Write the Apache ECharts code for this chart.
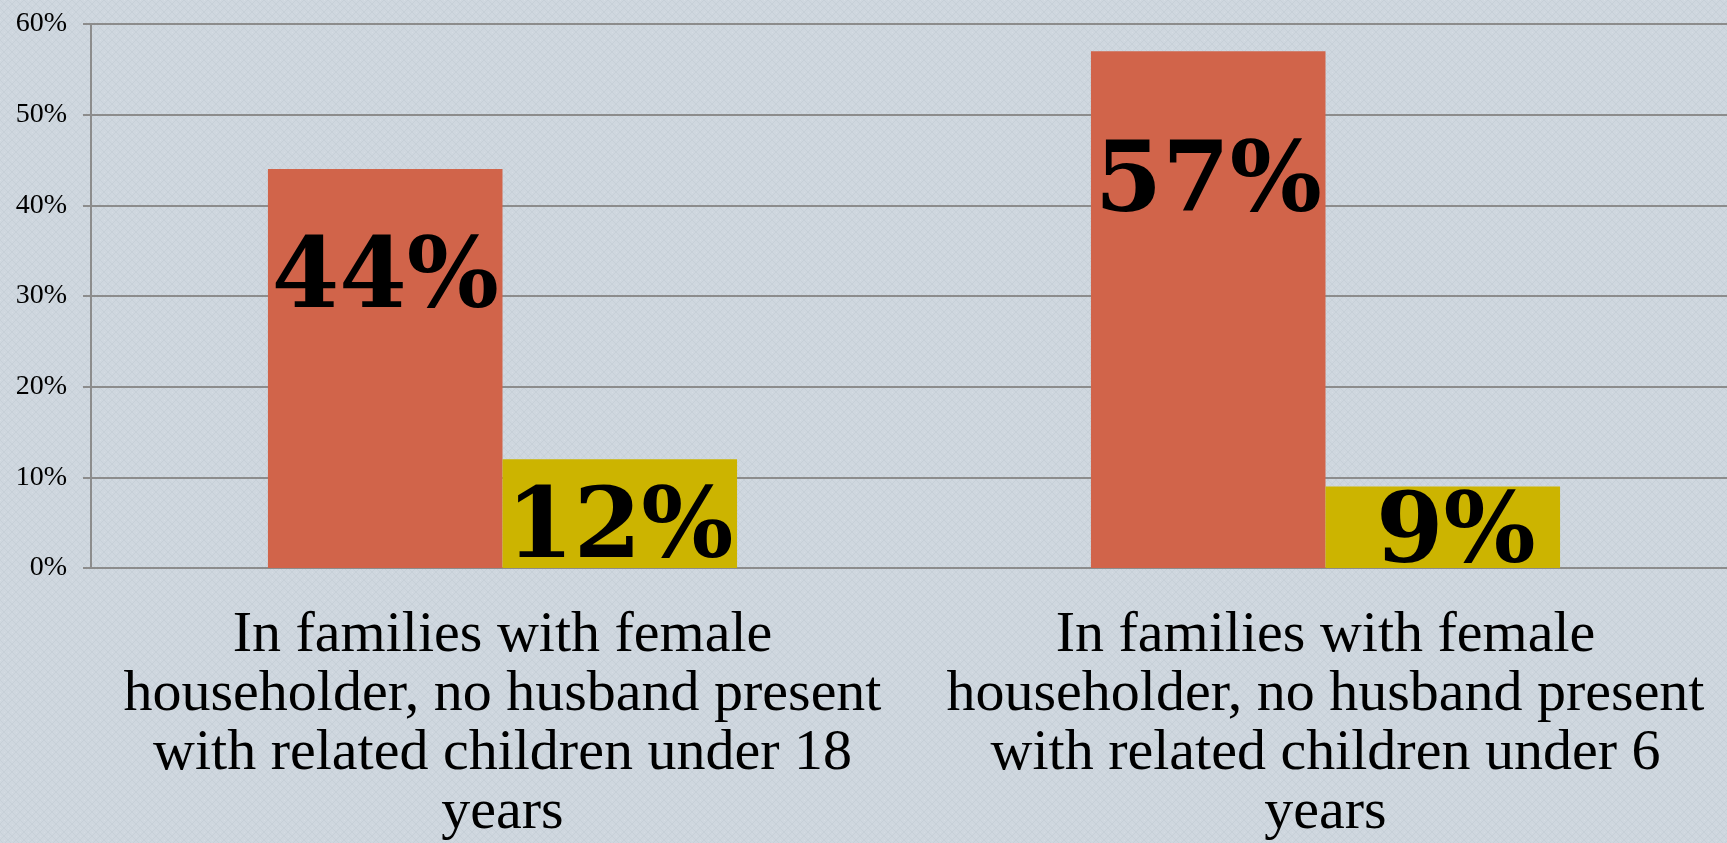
<!DOCTYPE html>
<html>
<head>
<meta charset="utf-8">
<script src="https://cdn.jsdelivr.net/npm/echarts@6/dist/echarts.min.js"></script>
<style>
	html, body { margin: 0; padding: 0; background: #cfd7df; }
	#chart { width: 1727px; height: 843px; }
</style>
</head>
<body>
<div id="chart"></div>
<script>
// categories (x axis)
var categories = [
	'In families with female\nhouseholder, no husband present\nwith related children under 18\nyears',
	'In families with female\nhouseholder, no husband present\nwith related children under 6\nyears'
];
// series values, in percent
var redValues = [44, 57];
var yellowValues = [12, 9];
// y axis ticks
var yMin = 0;
var yMax = 60;
var yStep = 10;

var chartObj = echarts.init(document.getElementById('chart'));

// label offsets per bar (placement only)
var redOffsets = [[0, -87], [0, -124]];
var yellowOffsets = [[0, 18], [13, 10]];

function withLabels(values, offsets) {
	var out = [];
	for (var i = 0; i < values.length; i++) {
		out.push({ value: values[i], label: { offset: offsets[i] } });
	}
	return out;
}

// faint woven texture for the background
function makeTexture() {
	var c = document.createElement('canvas');
	c.width = 8;
	c.height = 8;
	var ctx = c.getContext('2d');
	ctx.fillStyle = '#cfd7df';
	ctx.fillRect(0, 0, 8, 8);
	ctx.fillStyle = '#c7d0d8';
	for (var i = 0; i < 8; i++) {
		ctx.fillRect(i, i, 1, 1);
		ctx.fillRect(7 - i, i, 1, 1);
	}
	ctx.fillStyle = '#d6dde4';
	ctx.fillRect(4, 0, 1, 1);
	ctx.fillRect(0, 4, 1, 1);
	return c;
}

var gridColor = '#8c8c8c';
var valueLabel = {
	show: true,
	position: 'inside',
	formatter: '{c}%',
	color: '#000',
	fontFamily: 'DejaVu Serif',
	fontWeight: 'bold',
	fontSize: 97
};

var option = {
	backgroundColor: { image: makeTexture(), repeat: 'repeat' },
	animation: false,
	grid: { left: 91, top: 24, width: 1646, bottom: 275, outerBoundsMode: 'none' },
	xAxis: {
		type: 'category',
		data: categories,
		axisLine: { lineStyle: { color: gridColor, width: 2 } },
		axisTick: { length: 15, lineStyle: { color: gridColor, width: 2 } },
		axisLabel: {
			interval: 0,
			margin: 38,
			color: '#000',
			fontFamily: 'Liberation Serif',
			fontSize: 58,
			lineHeight: 59
		}
	},
	yAxis: {
		type: 'value',
		min: yMin,
		max: yMax,
		interval: yStep,
		axisLine: { show: true, lineStyle: { color: gridColor, width: 2 } },
		axisTick: { show: true, length: 8, lineStyle: { color: gridColor, width: 2 } },
		splitLine: { lineStyle: { color: gridColor, width: 2 } },
		axisLabel: {
			formatter: '{value}%',
			margin: 24,
			color: '#000',
			fontFamily: 'Liberation Serif',
			fontSize: 28
		}
	},
	series: [
		{
			name: 'Series 1',
			type: 'bar',
			barGap: '0%',
			barCategoryGap: '43%',
			itemStyle: { color: '#d1644a' },
			label: valueLabel,
			data: withLabels(redValues, redOffsets)
		},
		{
			name: 'Series 2',
			type: 'bar',
			barGap: '0%',
			barCategoryGap: '43%',
			itemStyle: { color: '#ccb400' },
			label: valueLabel,
			data: withLabels(yellowValues, yellowOffsets)
		}
	]
};

chartObj.setOption(option);
</script>
</body>
</html>
